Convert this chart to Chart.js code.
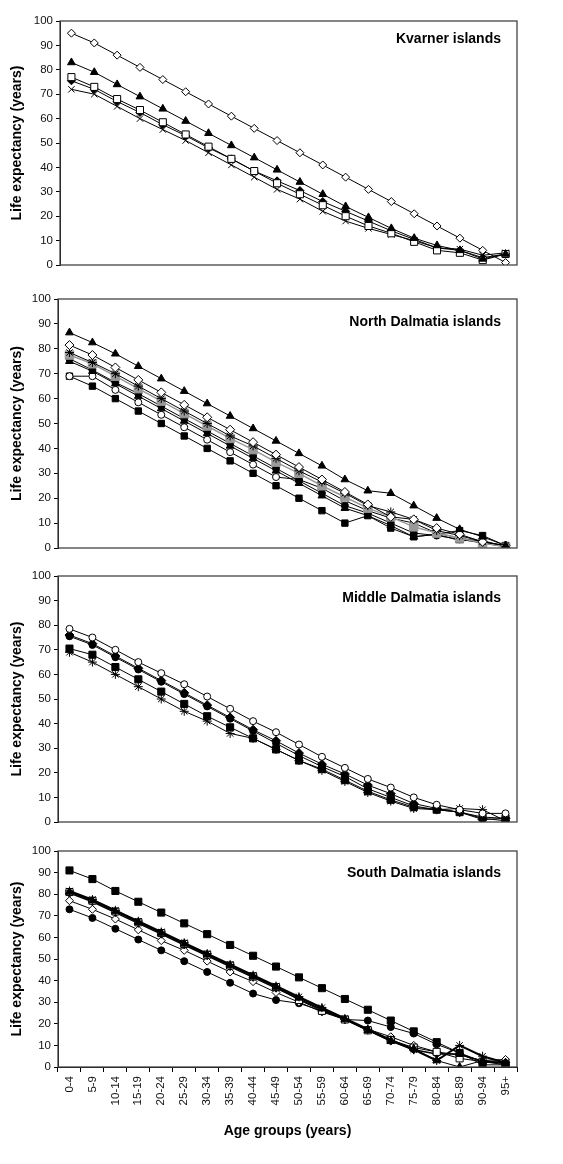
<!DOCTYPE html>
<html>
<head>
<meta charset="utf-8">
<script src="https://cdn.jsdelivr.net/npm/chart.js@4.4.1/dist/chart.umd.min.js"></script>
<style>
  body { margin: 0; background: #fff; width: 563px; height: 1164px; overflow: hidden; }
  .panel { position: absolute; left: 0; width: 563px; }
</style>
</head>
<body>
<div class="panel" id="p1" style="top:11px;height:264px"><canvas id="c1"></canvas></div>
<div class="panel" id="p2" style="top:289px;height:269px"><canvas id="c2"></canvas></div>
<div class="panel" id="p3" style="top:566px;height:266px"><canvas id="c3"></canvas></div>
<div class="panel" id="p4" style="top:841px;height:323px"><canvas id="c4"></canvas></div>
<script>
const ageGroups = ['0-4','5-9','10-14','15-19','20-24','25-29','30-34','35-39','40-44','45-49',
  '50-54','55-59','60-64','65-69','70-74','75-79','80-84','85-89','90-94','95+'];
const yTicks = [0, 10, 20, 30, 40, 50, 60, 70, 80, 90, 100];

// Kvarner islands
const kvOpenDiamond = [95,91,86,81,76,71,66,61,56,51,46,41,36,31,26,21,16,11,6,1];
const kvTriangle = [83,79,74,69,64,59,54,49,44,39,34,29,24,19.5,15,11,8,6,2.5,4.5];
const kvOpenSquare = [77,73,68,63.5,58.5,53.5,48.5,43.5,38.5,33.5,29,24.5,20,16,13,9.5,6,5,2,4.5];
const kvDiamond = [75.5,72,67,62.5,57.5,53,48,43.5,38.5,34.5,30.5,26,22,18,14,10.5,7,6,3,4.5];
const kvCross = [72,70,65,60,55.5,51,46,41,36,31,27,22,18,15,12.5,10,7,6.5,4,5];

// North Dalmatia islands
const ndTriangleTop = [86.5,82.5,78,73,68,63,58,53,48,43,38,33,27.5,23,22,17,12,7.5,4.5,1];
const ndOpenDiamond = [81.5,77.5,72.5,67.5,62.5,57.5,52.5,47.5,42.5,37.5,32.5,27.5,22.5,17.5,12.5,11.5,8,5.5,2.5,1];
const ndStar = [78.5,74.5,70,65,60,55,50,45,41,36,31,26.5,22,17,14.5,11.5,7,5,2.5,1];
const ndGreySquare = [77.5,74,69,64,59,54,49,44,39.5,34.5,30,25,20.5,16,12.5,8.5,6,4,2,0.5];
const ndCircle = [76,71.5,66.5,62,57,52,47,42,37,32,27,22,17,14,10,6,5,3.5,2,0.5];
const ndTriangleLow = [75,71,66,61,56,51,46,41,36,31,26,21,16,13,9,4.5,5.5,3,3,0.5];
const ndOpenCircle = [69,69,63.5,58.5,53.5,48.5,43.5,38.5,33.5,28.5,27.5,24,19,15,12,10,6,4,2.5,0.5];
const ndSquare = [69,65,60,55,50,45,40,35,30,25,20,15,10,13,8,4.5,5.5,7,5,1];

// Middle Dalmatia islands
const mdOpenCircle = [78.5,75,70,65,60.5,56,51,46,41,36.5,31.5,26.5,22,17.5,14,10,7,5,3.5,3.5];
const mdDiamond = [76,72.5,67.5,62.5,57.5,52.5,47.5,42.5,37.5,33,28,23.5,19.5,15,11.5,7.5,5.5,4,1,1.5];
const mdCircle = [75.5,72,67,62,57,52,47,42,37,32,27,22.5,18.5,13.5,10,6.5,5,4,1.5,0.5];
const mdSquare = [70.5,68,63,58,53,48,43,38.5,34,29.5,25,21.5,17,12.5,9,6,5,4,2,1.5];
const mdStar = [69,65,60,55,50,45,41,36,34,29.5,25,21,16.5,12,8.5,5.5,5,5.5,5,0.5];

// South Dalmatia islands
const sdSquare = [91,87,81.5,76.5,71.5,66.5,61.5,56.5,51.5,46.5,41.5,36.5,31.5,26.5,21.5,16.5,11.5,6.5,1,1];
const sdStar = [81.5,77.5,72.5,67.5,62.5,57.5,52.5,47.5,42.5,37.5,32.5,27.5,22.5,17.5,12.5,8,3,10,5,2];
const sdTriangle = [81,77,72,67,62,57,52,47,42,37,32,27,22,17,12,8.5,3,0,3,2];
const sdOpenSquare = [81,77,72,67,62,57,52,47,42,37,31,26,22,17,12.5,9,7,4,2.5,1.5];
const sdDiamond = [80.5,76.5,71.5,66.5,61.5,56.5,51.5,46.5,41.5,36.5,31.5,26.5,22,17,12,8,6,6,2.5,2];
const sdOpenDiamond = [77,73,68.5,63.5,58.5,54,49,44,39.5,34.5,30,25.5,22,17.5,14,10,7,5.5,3,3.5];
const sdCircle = [73,69,64,59,54,49,44,39,34,31,29.5,26,22,21.5,18.5,15.5,10.5,6.5,2.5,1];

const FONT = '"Liberation Sans", Arial, sans-serif';

function ds(data, style, filled, radius, extra) {
  return Object.assign({
    data: data,
    borderColor: '#000',
    borderWidth: 1,
    tension: 0,
    pointStyle: style,
    pointRadius: radius,
    pointBorderWidth: 1,
    pointBorderColor: '#000',
    pointBackgroundColor: filled ? '#000' : '#fff'
  }, extra || {});
}

const framePlugin = {
  id: 'frame',
  afterDraw(chart) {
    const a = chart.chartArea, ctx = chart.ctx;
    ctx.save();
    ctx.strokeStyle = '#444';
    ctx.lineWidth = 1.3;
    ctx.strokeRect(a.left, a.top, a.right - a.left, a.bottom - a.top);
    const o = chart.options.plugins.panelTitle;
    ctx.fillStyle = '#000';
    ctx.font = 'bold 14px ' + FONT;
    ctx.textAlign = 'right';
    ctx.textBaseline = 'middle';
    ctx.fillText(o.text, a.right - 16, a.top + o.dy);
    ctx.restore();
  }
};

function makePanel(id, title, dy, axisWidth, datasets, showX) {
  const xScale = showX ? {
    type: 'category',
    offset: true,
    grid: { display: true, drawOnChartArea: false, drawTicks: true, tickLength: 5, color: '#000', offset: true },
    border: { display: true, color: '#000' },
    ticks: { autoSkip: false, minRotation: 90, maxRotation: 90, padding: 4, color: '#111', font: { family: FONT, size: 11.5 } },
    title: { display: true, text: 'Age groups (years)', color: '#000', font: { family: FONT, size: 14, weight: 'bold' }, padding: { top: 0, bottom: 24 } },
    afterFit(scale) { scale.height = 97; }
  } : { type: 'category', offset: true, display: false };

  new Chart(document.getElementById(id), {
    type: 'line',
    data: { labels: ageGroups, datasets: datasets },
    plugins: [framePlugin],
    options: {
      responsive: true,
      maintainAspectRatio: false,
      animation: false,
      events: [],
      layout: { padding: { top: 10, bottom: showX ? 0 : 10, left: 0, right: 46 } },
      plugins: { legend: { display: false }, tooltip: { enabled: false }, panelTitle: { text: title, dy: dy } },
      scales: {
        x: xScale,
        y: {
          min: 0, max: 100,
          afterBuildTicks(scale) { scale.ticks = yTicks.map(v => ({ value: v })); },
          grid: { display: true, drawOnChartArea: false, drawTicks: true, tickLength: 4, color: '#000' },
          border: { display: true, color: '#000' },
          ticks: { padding: 3, color: '#111', font: { family: FONT, size: 11.5 } },
          title: { display: true, text: 'Life expectancy (years)', color: '#000', font: { family: FONT, size: 14, weight: 'bold' }, padding: { top: 9, bottom: 4 } },
          afterFit(scale) { scale.width = axisWidth; }
        }
      }
    }
  });
}

makePanel('c1', 'Kvarner islands', 18, 60, [
  ds(kvOpenDiamond, 'rectRot', false, 4),
  ds(kvTriangle, 'triangle', true, 4.5),
  ds(kvOpenSquare, 'rect', false, 5),
  ds(kvDiamond, 'rectRot', true, 4),
  ds(kvCross, 'crossRot', false, 4.5)
], false);

makePanel('c2', 'North Dalmatia islands', 23, 58, [
  ds(ndTriangleTop, 'triangle', true, 4.5),
  ds(ndOpenDiamond, 'rectRot', false, 4.5),
  ds(ndStar, 'star', false, 4.5),
  ds(ndGreySquare, 'rect', true, 6, { borderColor: '#999', pointBorderColor: '#999', pointBackgroundColor: '#999', borderWidth: 1.5 }),
  ds(ndCircle, 'circle', true, 3.5),
  ds(ndTriangleLow, 'triangle', true, 4.5),
  ds(ndOpenCircle, 'circle', false, 3.5),
  ds(ndSquare, 'rect', true, 4.5)
], false);

makePanel('c3', 'Middle Dalmatia islands', 22, 58, [
  ds(mdOpenCircle, 'circle', false, 3.5),
  ds(mdDiamond, 'rectRot', true, 4.5),
  ds(mdCircle, 'circle', true, 3.5),
  ds(mdSquare, 'rect', true, 5),
  ds(mdStar, 'star', false, 4.5)
], false);

makePanel('c4', 'South Dalmatia islands', 22, 58, [
  ds(sdSquare, 'rect', true, 5),
  ds(sdStar, 'star', false, 4.5, { borderWidth: 2 }),
  ds(sdTriangle, 'triangle', true, 4.5),
  ds(sdOpenSquare, 'rect', false, 5),
  ds(sdDiamond, 'rectRot', true, 4, { borderWidth: 1.5 }),
  ds(sdOpenDiamond, 'rectRot', false, 4),
  ds(sdCircle, 'circle', true, 3.5)
], true);
</script>
</body>
</html>
